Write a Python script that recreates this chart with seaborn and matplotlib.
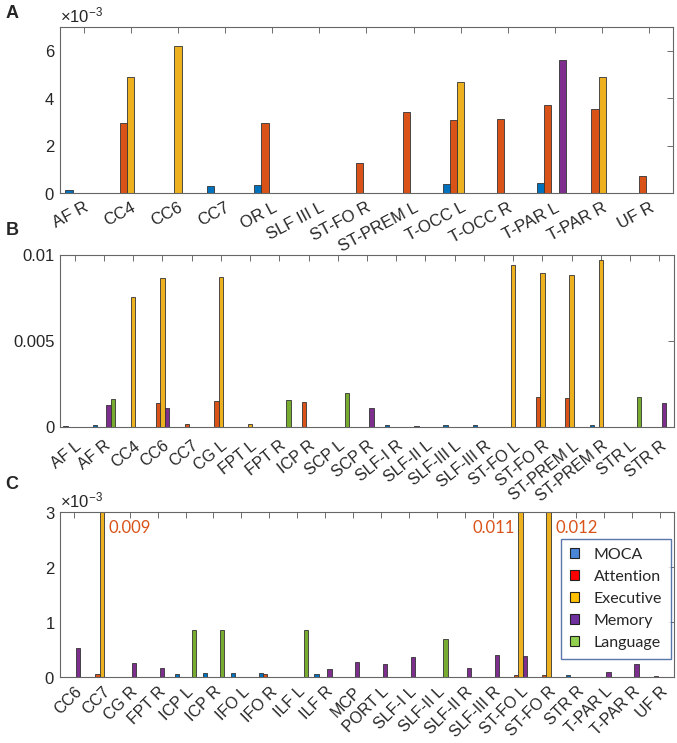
import numpy as np
import pandas as pd
import matplotlib
matplotlib.use('Agg')
import matplotlib.pyplot as plt
import seaborn as sns
from matplotlib.patches import Patch
from matplotlib.ticker import FuncFormatter

sns.set_style("white")
plt.rcParams['font.family'] = ['Liberation Sans', 'DejaVu Sans']
plt.rcParams['mathtext.fontset'] = 'custom'
plt.rcParams['mathtext.rm'] = 'Liberation Sans'
plt.rcParams['text.color'] = '#262626'
plt.rcParams['xtick.color'] = '#262626'
plt.rcParams['ytick.color'] = '#262626'

measures = ['MOCA', 'Attention', 'Executive', 'Memory', 'Language']
bar_colors = ['#0072BD', '#D95319', '#EDB120', '#7E2F8E', '#77AC30']
legend_colors = ['#4A86D8', '#FF0000', '#FFC000', '#7030A0', '#92D050']

# Panel A (values x 10^-3)
tracts_a = ['AF R', 'CC4', 'CC6', 'CC7', 'OR L', 'SLF III L', 'ST-FO R',
            'ST-PREM L', 'T-OCC L', 'T-OCC R', 'T-PAR L', 'T-PAR R', 'UF R']
a_moca      = [0.11, 0, 0, 0.28, 0.33, 0.02, 0, 0, 0.36, 0, 0.43, 0, 0]
a_attention = [0, 2.95, 0, 0, 2.96, 0, 1.28, 3.41, 3.06, 3.13, 3.73, 3.56, 0.73]
a_executive = [0, 4.89, 6.18, 0, 0, 0, 0, 0, 4.70, 0, 0, 4.89, 0]
a_memory    = [0, 0, 0, 0, 0, 0, 0, 0, 0, 0, 5.61, 0, 0]
a_language  = [0, 0, 0, 0, 0, 0, 0, 0, 0, 0, 0, 0, 0]

# Panel B (values x 10^-3)
tracts_b = ['AF L', 'AF R', 'CC4', 'CC6', 'CC7', 'CG L', 'FPT L', 'FPT R',
            'ICP R', 'SCP L', 'SCP R', 'SLF-I R', 'SLF-II L', 'SLF-III L',
            'SLF-III R', 'ST-FO L', 'ST-FO R', 'ST-PREM L', 'ST-PREM R',
            'STR L', 'STR R']
b_moca      = [0.06, 0.10, 0, 0, 0, 0, 0, 0, 0, 0, 0, 0.10, 0.08, 0.10,
               0.14, 0, 0, 0, 0.10, 0, 0]
b_attention = [0, 0, 0, 1.42, 0.17, 1.50, 0, 0, 1.44, 0, 0, 0, 0, 0,
               0, 0, 1.77, 1.67, 0, 0, 0]
b_executive = [0, 0, 7.53, 8.66, 0, 8.74, 0.16, 0, 0, 0, 0, 0, 0, 0,
               0, 9.40, 8.93, 8.83, 9.69, 0, 0]
b_memory    = [0, 1.28, 0, 1.13, 0, 0, 0, 0, 0, 0, 1.09, 0, 0, 0,
               0, 0, 0, 0, 0, 0, 1.40]
b_language  = [0, 1.61, 0, 0, 0, 0, 0, 1.57, 0, 2.00, 0, 0, 0, 0,
               0, 0, 0, 0, 0, 1.75, 0]

# Panel C (values x 10^-3)
tracts_c = ['CC6', 'CC7', 'CG R', 'FPT R', 'ICP L', 'ICP R', 'IFO L', 'IFO R',
            'ILF L', 'ILF R', 'MCP', 'PORT L', 'SLF-I L', 'SLF-II L',
            'SLF-II R', 'SLF-III R', 'ST-FO L', 'ST-FO R', 'STR R',
            'T-PAR L', 'T-PAR R', 'UF R']
c_moca      = [0, 0, 0, 0, 0.06, 0.07, 0.07, 0.07, 0, 0.06, 0, 0, 0, 0,
               0, 0, 0, 0, 0.04, 0, 0, 0]
c_attention = [0, 0.05, 0, 0, 0, 0, 0, 0.05, 0, 0, 0, 0, 0, 0,
               0, 0, 0.04, 0.04, 0, 0, 0, 0.025]
c_executive = [0, 9.0, 0, 0, 0, 0, 0, 0, 0, 0, 0, 0, 0, 0,
               0, 0, 11.0, 12.0, 0, 0, 0, 0]
c_memory    = [0.52, 0, 0.25, 0.16, 0, 0, 0, 0, 0, 0.15, 0.27, 0.24, 0.36, 0,
               0.165, 0.40, 0.38, 0, 0, 0.085, 0.24, 0]
c_language  = [0, 0, 0, 0, 0.86, 0.85, 0, 0, 0.85, 0, 0, 0, 0, 0.69,
               0, 0, 0, 0, 0, 0, 0, 0]
c_clipped = ['0.009', '0.011', '0.012']


def to_long(tracts, series):
    rows = []
    for m, vals in zip(measures, series):
        for t, v in zip(tracts, vals):
            rows.append({'tract': t, 'measure': m, 'value': v * 1e-3})
    return pd.DataFrame(rows)


def draw_panel(ax, tracts, series, rot, xsize, xpad):
    df = to_long(tracts, series)
    sns.barplot(data=df, x='tract', y='value', hue='measure', order=tracts,
                hue_order=measures, palette=bar_colors, width=0.77, gap=0,
                saturation=1, edgecolor='#333333', linewidth=0.6,
                errorbar=None, legend=False, ax=ax)
    ax.set_xlim(-0.5, len(tracts) - 0.5)
    ax.set_xlabel('')
    ax.set_ylabel('')
    ax.tick_params(direction='in', top=True, right=True, length=4,
                   width=0.6, color='#555555', labelsize=12)
    ax.tick_params(axis='x', labelsize=xsize, pad=xpad)
    for lab in ax.get_xticklabels():
        lab.set_rotation(rot)
        lab.set_ha('right')
        lab.set_va('top')
        lab.set_rotation_mode('anchor')
    for s in ax.spines.values():
        s.set_color('#666666')
        s.set_linewidth(0.8)


fig = plt.figure(figsize=(6.77, 7.43), dpi=100)
ax_a = fig.add_axes([0.0886, 0.7402, 0.9055, 0.2234])
ax_b = fig.add_axes([0.0886, 0.4253, 0.9070, 0.2315])
ax_c = fig.add_axes([0.0886, 0.0888, 0.9070, 0.2221])

# A
draw_panel(ax_a, tracts_a, [a_moca, a_attention, a_executive, a_memory, a_language], 28, 12, 5)
ax_a.set_ylim(0, 7e-3)
ax_a.set_yticks([0, 2e-3, 4e-3, 6e-3])
ax_a.ticklabel_format(axis='y', style='sci', scilimits=(0, 0), useMathText=True)
ax_a.yaxis.get_offset_text().set_fontsize(12)

# B
draw_panel(ax_b, tracts_b, [b_moca, b_attention, b_executive, b_memory, b_language], 39, 11.5, 8)
ax_b.set_ylim(0, 0.01)
ax_b.set_yticks([0, 0.005, 0.01])
ax_b.yaxis.set_major_formatter(FuncFormatter(lambda v, p: f'{v:g}'))

# C
draw_panel(ax_c, tracts_c, [c_moca, c_attention, c_executive, c_memory, c_language], 45, 11.5, 5)
ax_c.set_ylim(0, 3e-3)
ax_c.set_yticks([0, 1e-3, 2e-3, 3e-3])
ax_c.ticklabel_format(axis='y', style='sci', scilimits=(0, 0), useMathText=True)
ax_c.yaxis.get_offset_text().set_fontsize(12)

# labels for the clipped Executive bars
ymax = ax_c.get_ylim()[1]
clip_pos = [(tracts_c.index('CC7'), 'left', 5), (tracts_c.index('ST-FO L'), 'right', -4),
            (tracts_c.index('ST-FO R'), 'left', 5)]
for txt, (i, ha, dx) in zip(c_clipped, clip_pos):
    ax_c.annotate(txt, xy=(i, ymax), xytext=(dx, -6), textcoords='offset points',
                  ha=ha, va='top', color='#D95319', fontsize=12, family='Lato')

handles = [Patch(facecolor=c, edgecolor='#222222', linewidth=0.8, label=m)
           for m, c in zip(measures, legend_colors)]
leg = ax_c.legend(handles=handles, loc='upper right', bbox_to_anchor=(0.995, 0.836),
                  borderaxespad=0, fancybox=False, frameon=True,
                  handlelength=0.6, handleheight=0.6, handletextpad=0.9,
                  borderpad=0.55, labelspacing=0.5,
                  prop={'family': 'Lato', 'size': 11.5})
leg.get_frame().set_edgecolor('#2F5597')
leg.get_frame().set_linewidth(1.0)

for lab, y in [('A', 13), ('B', 230), ('C', 484)]:
    fig.text(0.008, 1 - y / 743, lab, fontsize=13, fontweight='bold', va='center')

fig.savefig('out.png', dpi=100)
